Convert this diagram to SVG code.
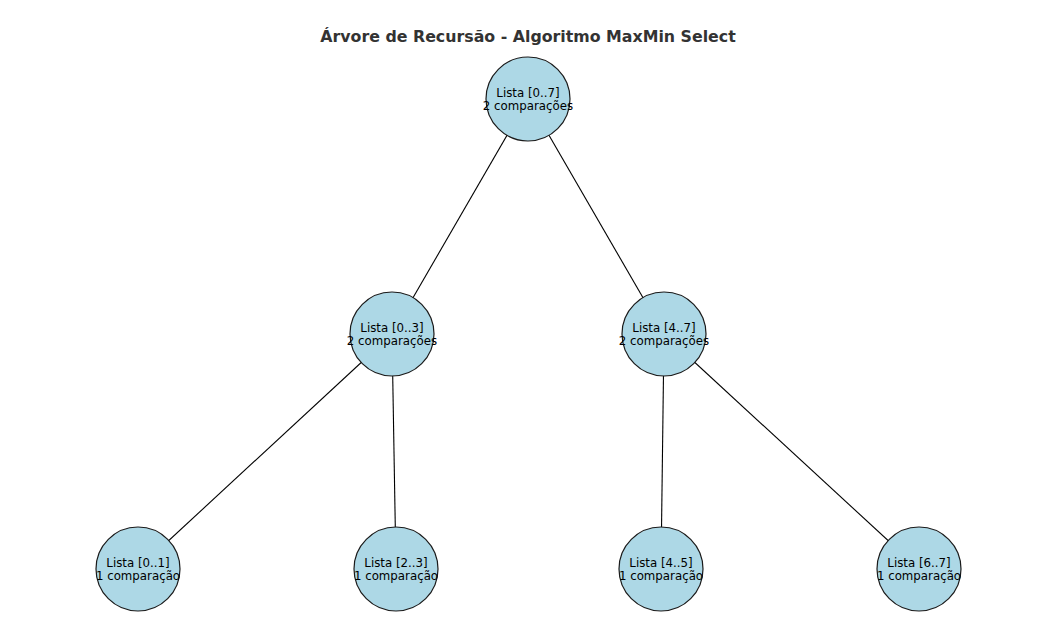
<svg xmlns="http://www.w3.org/2000/svg" width="1037" height="626" viewBox="0 0 1037 626">
<style>
.node circle{fill:#add8e6;stroke:#1a1a1a;stroke-width:1.2}
.node text{font-family:"DejaVu Sans",sans-serif;font-size:11.8px;fill:#000;text-anchor:middle}
.edges line{stroke:#000;stroke-width:1.1}
.title{font-family:"DejaVu Sans",sans-serif;font-weight:bold;font-size:15.8px;fill:#333;text-anchor:middle}
</style>
<rect width="1037" height="626" fill="#fff"/>
<text class="title" x="528" y="42">Árvore de Recursão - Algoritmo MaxMin Select</text>
<g class="edges">
<line x1="528" y1="99" x2="392" y2="334"/>
<line x1="528" y1="99" x2="664" y2="334"/>
<line x1="392" y1="334" x2="138" y2="569"/>
<line x1="392" y1="334" x2="396" y2="569"/>
<line x1="664" y1="334" x2="661" y2="569"/>
<line x1="664" y1="334" x2="919" y2="569"/>
</g>
<g class="node" id="n07"><circle cx="528" cy="99" r="42"/><text x="528" y="96.5">Lista [0..7]</text><text x="528" y="109.5">2 comparações</text></g>
<g class="node" id="n03"><circle cx="392" cy="334" r="42"/><text x="392" y="331.5">Lista [0..3]</text><text x="392" y="344.5">2 comparações</text></g>
<g class="node" id="n47"><circle cx="664" cy="334" r="42"/><text x="664" y="331.5">Lista [4..7]</text><text x="664" y="344.5">2 comparações</text></g>
<g class="node" id="n01"><circle cx="138" cy="569" r="42"/><text x="138" y="566.5">Lista [0..1]</text><text x="138" y="579.5">1 comparação</text></g>
<g class="node" id="n23"><circle cx="396" cy="569" r="42"/><text x="396" y="566.5">Lista [2..3]</text><text x="396" y="579.5">1 comparação</text></g>
<g class="node" id="n45"><circle cx="661" cy="569" r="42"/><text x="661" y="566.5">Lista [4..5]</text><text x="661" y="579.5">1 comparação</text></g>
<g class="node" id="n67"><circle cx="919" cy="569" r="42"/><text x="919" y="566.5">Lista [6..7]</text><text x="919" y="579.5">1 comparação</text></g>
</svg>
